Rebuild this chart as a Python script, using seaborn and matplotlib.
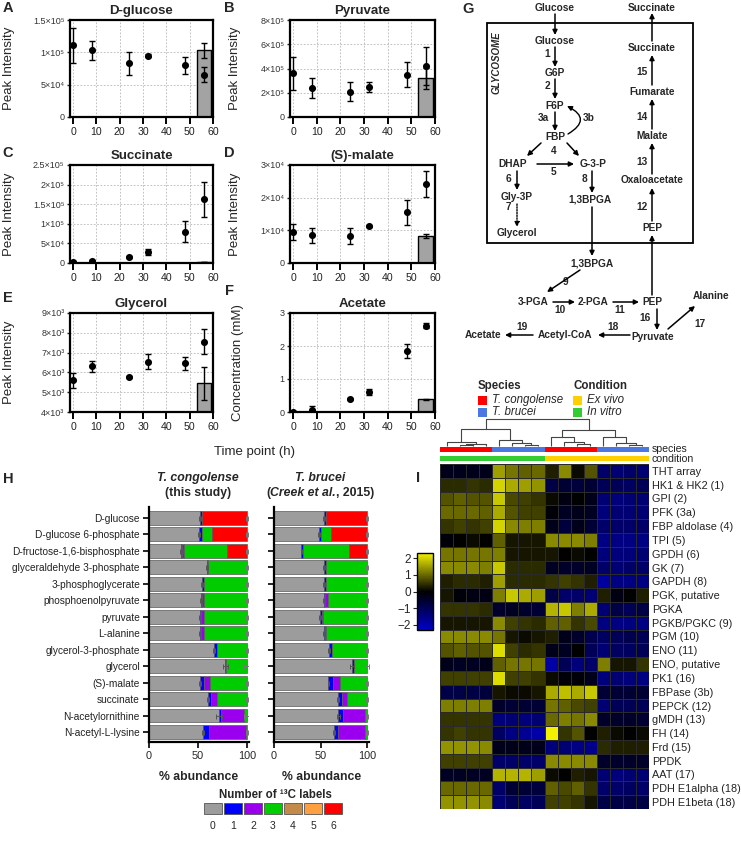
import numpy as np
import pandas as pd
import matplotlib
matplotlib.use("Agg")
import matplotlib.pyplot as plt
import seaborn as sns
from matplotlib.colors import LinearSegmentedColormap, ListedColormap
from matplotlib.patches import Rectangle

# ---------------- data: time courses (A-F) ----------------
time_h = [0, 8, 24, 32, 48, 56]
bar_t = 56

glucose_mean = [1.11e5, 1.03e5, 0.83e5, 0.95e5, 0.80e5, 0.655e5]
glucose_err = [0.27e5, 0.145e5, 0.175e5, 0.02e5, 0.13e5, 0.115e5]
glucose_bar, glucose_bar_err = 1.03e5, 0.11e5

pyruvate_mean = [3.6e5, 2.4e5, 2.1e5, 2.5e5, 3.5e5, 4.2e5]
pyruvate_err = [1.35e5, 0.85e5, 0.75e5, 0.4e5, 1.05e5, 1.55e5]
pyruvate_bar, pyruvate_bar_err = 3.2e5, 0.85e5

succinate_mean = [3e3, 6e3, 1.5e4, 2.8e4, 8.0e4, 1.62e5]
succinate_err = [1e3, 2e3, 2e3, 7e3, 2.6e4, 4.4e4]
succinate_bar, succinate_bar_err = 2e3, 0.5e3

malate_mean = [9.4e3, 8.5e3, 8.3e3, 1.13e4, 1.55e4, 2.43e4]
malate_err = [2.4e3, 2.3e3, 2.5e3, 0.4e3, 3.8e3, 4.0e3]
malate_bar, malate_bar_err = 8.3e3, 0.7e3

glycerol_mean = [5.6e3, 6.3e3, 5.78e3, 6.55e3, 6.45e3, 7.55e3]
glycerol_err = [0.38e3, 0.3e3, 0.05e3, 0.4e3, 0.34e3, 0.63e3]
glycerol_bar, glycerol_bar_err = 5.45e3, 0.82e3

acetate_mean = [0.0, 0.07, 0.38, 0.6, 1.85, 2.62]
acetate_err = [0.02, 0.12, 0.03, 0.09, 0.2, 0.08]
acetate_bar, acetate_bar_err = 0.38, 0.02

# ---------------- data: isotopologues (H) ----------------
metabolites = ["D-glucose", "D-glucose 6-phosphate", "D-fructose-1,6-bisphosphate",
               "glyceraldehyde 3-phosphate", "3-phosphoglycerate", "phosphoenolpyruvate",
               "pyruvate", "L-alanine", "glycerol-3-phosphate", "glycerol", "(S)-malate",
               "succinate", "N-acetylornithine", "N-acetyl-L-lysine"]
label_numbers = [0, 1, 2, 3, 4, 5, 6]
label_colors = ["#9c9c9c", "#0000ff", "#9a00ee", "#00cc00", "#c48a4a", "#ffa040", "#ff0000"]

tc_lab0 = [52, 51, 33, 59, 54, 53, 52, 52, 66, 78, 52, 60, 71, 55]
tc_lab1 = [2.5, 3, 0.5, 1, 2, 1, 1, 1, 3, 1, 4, 3.5, 2, 6]
tc_lab2 = [0, 0, 2.5, 0, 0, 2.5, 3, 3, 0, 0, 6, 5.5, 24, 38]
tc_lab3 = [0, 10, 44, 40, 44, 43.5, 44, 44, 31, 21, 38, 31, 3, 1]
tc_lab6 = [45.5, 36, 20, 0, 0, 0, 0, 0, 0, 0, 0, 0, 0, 0]
tc_err0 = [1, 1.5, 1.5, 1, 1, 1, 1, 1, 1, 2.5, 1, 1, 3, 1]
tc_err_end = [1, 1, 1, 1, 1, 1, 1, 1, 1, 3, 1, 1, 3, 1]

tb_lab0 = [53.5, 48.5, 29.5, 54, 54, 53.5, 49.5, 53.5, 59.5, 83.5, 58.5, 69, 69, 64.5]
tb_lab1 = [2, 2, 2, 2, 2, 1, 1.5, 1.5, 2.5, 2, 4.5, 4, 5, 4.5]
tb_lab2 = [0, 0, 0, 0, 0, 3, 2, 1, 0, 0, 8, 5, 24, 29]
tb_lab3 = [0, 10.5, 49.5, 44, 44, 42.5, 47, 44, 38, 14.5, 29, 22, 2, 2]
tb_lab6 = [44.5, 39, 19, 0, 0, 0, 0, 0, 0, 0, 0, 0, 0, 0]
tb_err0 = [1, 1, 1, 1, 1, 1, 1, 1, 1, 2, 1, 1, 1.5, 1]
tb_err_end = [1, 1, 1, 1, 1, 1, 1, 1, 1, 2, 1, 1, 1, 1]

# ---------------- data: heatmap (I) ----------------
genes = ["THT array", "HK1 & HK2 (1)", "GPI (2)", "PFK (3a)", "FBP aldolase (4)", "TPI (5)",
         "GPDH (6)", "GK (7)", "GAPDH (8)", "PGK, putative", "PGKA", "PGKB/PGKC (9)",
         "PGM (10)", "ENO (11)", "ENO, putative", "PK1 (16)", "FBPase (3b)", "PEPCK (12)",
         "gMDH (13)", "FH (14)", "Frd (15)", "PPDK", "AAT (17)", "PDH E1alpha (18)",
         "PDH E1beta (18)"]
heat_values = [
    [-0.3, -0.3, -0.3, -0.3, 1.5, 1.1, 0.9, 1.0, 0.3, 1.3, 0.1, 0.8, -1.2, -1.3, -1.2, -1.3],
    [0.4, 0.4, 0.5, 0.4, 2.0, 1.6, 1.5, 1.4, -0.8, -0.6, -0.7, -0.6, -1.0, -1.0, -1.1, -1.0],
    [0.8, 0.9, 0.8, 0.8, 1.9, 0.7, 0.6, 0.5, 0.1, -0.2, 0.0, -0.3, -1.3, -1.4, -1.3, -1.3],
    [1.0, 1.0, 1.0, 0.9, 1.6, 0.8, 0.6, 0.6, -0.1, -0.4, -0.3, -0.4, -1.4, -1.3, -1.3, -1.3],
    [0.5, 0.6, 0.5, 0.6, 2.0, 1.3, 1.2, 1.2, -0.3, -0.7, -0.3, -0.6, -1.2, -1.2, -1.2, -1.2],
    [-0.1, 0.0, 0.1, 0.0, 0.9, 0.2, 0.2, 0.2, 1.3, 1.3, 1.3, 1.2, -1.5, -1.5, -1.5, -1.5],
    [1.1, 1.1, 1.1, 1.1, 1.2, 0.2, 0.2, 0.2, 0.2, 0.0, 0.1, 0.0, -1.4, -1.4, -1.4, -1.3],
    [1.3, 1.3, 1.3, 1.2, 1.9, 0.4, 0.4, 0.4, -0.4, -0.5, -0.5, -0.4, -1.2, -1.3, -1.2, -1.2],
    [0.3, 0.4, 0.4, 0.3, 1.5, 0.4, 0.4, 0.4, 0.5, 0.6, 0.5, 0.3, -1.8, -1.5, -1.5, -1.5],
    [0.2, -0.1, -0.2, -0.2, 1.2, 1.9, 1.6, 1.5, -0.8, -1.2, -1.2, -1.3, 0.3, -0.2, 0.0, 0.3],
    [0.5, 0.5, 0.5, 0.4, -0.5, -0.4, -0.5, -0.6, 1.7, 1.9, 1.2, 1.6, -1.3, -0.8, -1.0, -0.8],
    [0.2, 0.2, 0.2, 0.2, 1.3, 0.6, 0.5, 0.4, 0.9, 0.9, 0.5, 0.7, -1.5, -1.5, -1.5, -1.5],
    [1.3, 1.3, 1.3, 1.3, 1.1, 0.2, 0.1, 0.2, 0.3, -0.3, -0.5, -0.9, -1.1, -1.0, -0.9, -1.0],
    [0.8, 0.9, 0.8, 0.8, 2.1, 0.6, 0.4, 0.5, -0.3, -0.4, 0.0, -1.0, -1.3, -1.1, -1.1, -1.0],
    [-0.3, -0.4, -0.4, -0.3, 0.9, 1.1, 1.1, 1.1, -1.9, -1.0, -1.4, -1.2, 1.2, 0.2, 0.2, 0.5],
    [0.6, 0.6, 0.6, 0.6, 2.1, 0.6, 0.6, 0.5, 0.1, -0.1, -0.1, -0.3, -1.4, -1.3, -1.4, -1.5],
    [-0.8, -0.8, -0.8, -0.7, 0.2, 0.1, 0.1, 0.2, 1.6, 1.8, 1.6, 1.9, -0.6, -0.6, -0.6, -0.6],
    [1.2, 1.2, 1.2, 1.2, -0.5, -0.6, -0.6, -0.6, 1.1, 0.9, 0.7, 0.6, -1.3, -1.0, -1.0, -1.0],
    [0.5, 0.5, 0.5, 0.5, -1.4, -1.3, -1.4, -1.3, 1.0, 1.2, 1.1, 1.3, -0.5, -0.5, -0.5, -0.6],
    [0.5, 0.6, 0.5, 0.5, -1.1, -1.5, -1.7, -1.9, 2.3, 0.5, 0.8, 0.0, 0.3, 0.1, 0.0, 0.1],
    [1.4, 1.4, 1.4, 1.3, -0.3, -0.3, -0.3, -0.3, -1.4, -1.3, -1.5, -1.6, 0.4, 0.3, 0.3, 0.3],
    [0.6, 0.6, 0.6, 0.6, -1.2, -1.2, -1.2, -1.2, 1.3, 1.3, 1.3, 1.3, -0.5, -0.5, -0.5, -0.5],
    [-0.4, -0.4, -0.4, -0.4, 1.7, 1.7, 1.7, 1.5, 0.1, 0.0, 0.3, 0.2, -1.3, -1.4, -1.3, -1.3],
    [1.0, 1.0, 1.0, 1.0, -1.2, -0.6, -0.6, -0.7, 0.9, 0.7, 0.9, 0.5, -1.2, -1.2, -1.1, -1.2],
    [1.4, 1.4, 1.4, 1.3, -1.3, -1.0, -1.1, -1.0, 0.6, 0.6, 0.5, 0.2, -0.8, -0.8, -0.8, -0.8],
]
sample_species = ["T. congolense"] * 4 + ["T. brucei"] * 4 + ["T. congolense"] * 4 + ["T. brucei"] * 4
sample_condition = ["In vitro"] * 8 + ["Ex vivo"] * 8
species_colors = {"T. congolense": "#ff0000", "T. brucei": "#4a77e0"}
condition_colors = {"Ex vivo": "#ffd000", "In vitro": "#33cc33"}
# column dendrogram merges: (child a, child b, height); ids >= 16 are earlier merges
dendro_merges = [
    [1, 2, 0.05], [16, 3, 0.09], [0, 17, 0.17],
    [6, 7, 0.05], [5, 19, 0.10], [4, 20, 0.23], [18, 21, 0.63],
    [10, 11, 0.08], [9, 23, 0.16], [8, 24, 0.33],
    [14, 15, 0.06], [13, 26, 0.12], [12, 27, 0.33], [25, 28, 0.60],
    [22, 29, 1.00],
]

# ---------------- style ----------------
sns.set_theme(style="ticks")
plt.rcParams["font.family"] = ["Liberation Sans", "DejaVu Sans"]
plt.rcParams["axes.unicode_minus"] = True

W, H = 741, 843
fig = plt.figure(figsize=(W / 100, H / 100), dpi=100)


def pax(x0, y0, x1, y1, **kw):
    return fig.add_axes([x0 / W, 1 - y1 / H, (x1 - x0) / W, (y1 - y0) / H], **kw)


def timecourse(box, title, mean, err, bval, berr, ylim, yticks, ylabels, ylabel, ylab_x):
    ax = pax(*box)
    ax.bar([bar_t], [bval], width=6, color="#a3a3a3", edgecolor="black", linewidth=1.0, zorder=2)
    ax.errorbar([bar_t], [bval], yerr=[berr], fmt="none", ecolor="black", elinewidth=1,
                capsize=2.5, capthick=1, zorder=3)
    ax.errorbar(time_h, mean, yerr=err, fmt="none", ecolor="black", elinewidth=1,
                capsize=2.5, capthick=1, zorder=4)
    sns.scatterplot(x=time_h, y=mean, ax=ax, color="black", s=26, linewidth=0, zorder=5, legend=False)
    ax.set_xlim(-1.3, 60)
    ax.set_ylim(*ylim)
    ax.set_xticks(range(0, 61, 10))
    ax.set_xticklabels([str(v) for v in range(0, 61, 10)], fontsize=7.6)
    ax.set_yticks(yticks)
    ax.set_yticklabels(ylabels, fontsize=6.5, color="#333333")
    ax.tick_params(axis="x", length=5, width=1.4, pad=2, colors="black", labelcolor="#222222")
    ax.tick_params(axis="y", length=2.5, width=1, pad=1.5)
    ax.grid(True, color="#b5b5b5", lw=0.6, ls=(0, (2, 2)))
    ax.set_axisbelow(True)
    for s in ax.spines.values():
        s.set_linewidth(1.6)
        s.set_color("black")
        s.set_visible(True)
    ax.set_title(title, fontweight="bold", fontsize=9.5, pad=4)
    ax.set_ylabel(ylabel, fontsize=9.5)
    ax.yaxis.set_label_coords(ylab_x, 0.5)
    return ax


timecourse((70, 20, 213, 117), "D-glucose", glucose_mean, glucose_err, glucose_bar, glucose_bar_err,
           (0, 1.5e5), [0, 5e4, 1e5, 1.5e5], ["0", "5×10⁴", "1×10⁵", "1.5×10⁵"], "Peak Intensity", -0.385)
timecourse((290, 20, 435, 117), "Pyruvate", pyruvate_mean, pyruvate_err, pyruvate_bar, pyruvate_bar_err,
           (0, 8e5), [0, 2e5, 4e5, 6e5, 8e5], ["0", "2×10⁵", "4×10⁵", "6×10⁵", "8×10⁵"], "Peak Intensity", -0.34)
timecourse((70, 165, 213, 263), "Succinate", succinate_mean, succinate_err, succinate_bar, succinate_bar_err,
           (0, 2.5e5), [0, 5e4, 1e5, 1.5e5, 2e5, 2.5e5],
           ["0", "5×10⁴", "1×10⁵", "1.5×10⁵", "2×10⁵", "2.5×10⁵"], "Peak Intensity", -0.385)
timecourse((290, 165, 435, 263), "(S)-malate", malate_mean, malate_err, malate_bar, malate_bar_err,
           (0, 3e4), [0, 1e4, 2e4, 3e4], ["0", "1×10⁴", "2×10⁴", "3×10⁴"], "Peak Intensity", -0.34)
timecourse((70, 313, 213, 412), "Glycerol", glycerol_mean, glycerol_err, glycerol_bar, glycerol_bar_err,
           (4e3, 9e3), [4e3, 5e3, 6e3, 7e3, 8e3, 9e3],
           ["4×10³", "5×10³", "6×10³", "7×10³", "8×10³", "9×10³"], "Peak Intensity", -0.385)
timecourse((290, 313, 435, 412), "Acetate", acetate_mean, acetate_err, acetate_bar, acetate_bar_err,
           (0, 3), [0, 1, 2, 3], ["0", "1", "2", "3"], "Concentration (mM)", -0.32)

# ---------------- panel H ----------------
def stacked(box, segments, err0, err_end, show_labels):
    ax = pax(*box)
    y = np.arange(len(metabolites))
    left = np.zeros(len(metabolites))
    for lab, vals in segments:
        vals = np.array(vals, dtype=float)
        m = vals > 0
        ax.barh(y[m], vals[m], left=left[m], height=0.85, color=label_colors[lab],
                edgecolor="#5a5a5a", linewidth=0.5, zorder=2)
        left += vals
    lab0 = np.array(segments[0][1], dtype=float)
    ax.errorbar(lab0, y, xerr=err0, fmt="none", ecolor="#555555", elinewidth=0.7,
                capsize=1.8, capthick=0.7, zorder=3)
    ax.errorbar(left, y, xerr=err_end, fmt="none", ecolor="#777777", elinewidth=0.7,
                capsize=1.8, capthick=0.7, zorder=3)
    ax.set_xlim(0, 102)
    ax.set_ylim(13.61, -0.67)
    ax.set_yticks(y)
    if show_labels:
        ax.set_yticklabels(metabolites, fontsize=7.3, color="#222222")
    else:
        ax.set_yticklabels([])
    ax.set_xticks([0, 50, 100])
    ax.set_xticklabels(["0", "50", "100"], fontsize=7.8)
    ax.tick_params(axis="both", length=4.5, width=1.4, pad=2)
    sns.despine(ax=ax)
    for s in ["left", "bottom"]:
        ax.spines[s].set_linewidth(1.6)
        ax.spines[s].set_color("black")
    ax.set_xlabel("% abundance", fontsize=8.8, fontweight="bold", labelpad=7)
    return ax


stacked((149, 507, 249, 742),
        [(0, tc_lab0), (1, tc_lab1), (2, tc_lab2), (3, tc_lab3), (6, tc_lab6)],
        tc_err0, tc_err_end, True)
stacked((274, 507, 369, 742),
        [(0, tb_lab0), (1, tb_lab1), (2, tb_lab2), (3, tb_lab3), (6, tb_lab6)],
        tb_err0, tb_err_end, False)

# ---------------- panel I ----------------
cmap = LinearSegmentedColormap.from_list("byel", ["#0000c8", "#000000", "#f2f200"])
hm_ax = pax(440, 464, 649, 809)
cb_ax = pax(417, 553, 433, 630)
df_hm = pd.DataFrame(heat_values, index=genes)
sns.heatmap(df_hm, ax=hm_ax, cmap=cmap, vmin=-2.3, vmax=2.3, cbar_ax=cb_ax,
            linewidths=0.4, linecolor="#2a2a2a", xticklabels=False, yticklabels=True)
hm_ax.yaxis.tick_right()
hm_ax.set_yticklabels(genes, rotation=0, fontsize=7.8, color="#222222")
hm_ax.tick_params(axis="y", length=0, pad=2)
hm_ax.set_ylabel("")
cbar = hm_ax.collections[0].colorbar
cbar.set_ticks([-2, -1, 0, 1, 2])
cbar.set_ticklabels(["−2", "−1", "0", "1", "2"])
cbar.outline.set_linewidth(1.0)
cbar.outline.set_edgecolor("black")
cb_ax.yaxis.set_ticks_position("left")
cb_ax.tick_params(axis="y", labelsize=8.5, length=3, width=0.8, pad=1.5)

sp_ax = pax(440, 447, 649, 452)
sp_order = list(species_colors.keys())
sns.heatmap([[sp_order.index(s) for s in sample_species]], ax=sp_ax,
            cmap=ListedColormap([species_colors[k] for k in sp_order]), vmin=-0.5, vmax=1.5,
            cbar=False, xticklabels=False, yticklabels=False)
cd_ax = pax(440, 456, 649, 461)
cd_order = list(condition_colors.keys())
sns.heatmap([[cd_order.index(c) for c in sample_condition]], ax=cd_ax,
            cmap=ListedColormap([condition_colors[k] for k in cd_order]), vmin=-0.5, vmax=1.5,
            cbar=False, xticklabels=False, yticklabels=False)

dd_ax = pax(440, 418, 649, 447)
pos = {i: i + 0.5 for i in range(16)}
hgt = {i: 0.0 for i in range(16)}
for k, (a, b, h) in enumerate(dendro_merges):
    xa, xb = pos[a], pos[b]
    dd_ax.plot([xa, xa, xb, xb], [hgt[a], h, h, hgt[b]], color="#444444", lw=0.8,
               solid_capstyle="butt")
    pos[16 + k] = (xa + xb) / 2
    hgt[16 + k] = h
dd_ax.set_xlim(0, 16)
dd_ax.set_ylim(-0.03, 1.03)
dd_ax.axis("off")

# ---------------- overlay: letters, labels, pathway, legends ----------------
ov = fig.add_axes([0, 0, 1, 1], zorder=10)
ov.set_xlim(0, W)
ov.set_ylim(H, 0)
ov.axis("off")
ov.patch.set_alpha(0)

for letter, x, y in [("A", 8, 8), ("B", 229, 8), ("C", 8, 153), ("D", 229, 153), ("E", 8, 298),
                     ("F", 229, 291), ("G", 468, 9), ("H", 8, 479), ("I", 418, 478)]:
    ov.text(x, y, letter, fontsize=10.5, fontweight="bold", ha="center", va="center")

ov.text(255, 452, "Time point (h)", fontsize=9.5, ha="center", va="center")

renderer = fig.canvas.get_renderer()


def rich(x, y, pieces, fs):
    ts = [ov.text(0, y, s, fontsize=fs, fontweight="bold", fontstyle=st, ha="left", va="center")
          for s, st in pieces]
    ws = [t.get_window_extent(renderer).width for t in ts]
    cur = x - sum(ws) / 2
    for t, w in zip(ts, ws):
        t.set_x(cur)
        cur += w


rich(198, 478, [("T. congolense", "italic")], 8.8)
rich(198, 493, [("(this study)", "normal")], 8.8)
rich(320, 478, [("T. brucei", "italic")], 8.8)
rich(320, 493, [("(", "normal"), ("Creek et al.", "italic"), (", 2015)", "normal")], 8.8)

# H legend
ov.text(275, 795, "Number of ¹³C labels", fontsize=8.3, fontweight="bold", ha="center", va="center")
for i, (n, c) in enumerate(zip(label_numbers, label_colors)):
    ov.add_patch(Rectangle((204 + 20 * i, 803), 18, 11, facecolor=c, edgecolor="#555555", lw=0.6))
    ov.text(213 + 20 * i, 826, str(n), fontsize=7.5, ha="center", va="center")

# I legend
ov.text(478, 386, "Species", fontsize=8.3, fontweight="bold", ha="left", va="center")
ov.text(573, 386, "Condition", fontsize=8.3, fontweight="bold", ha="left", va="center")
for (name, col), yy in zip(species_colors.items(), [400, 412]):
    ov.add_patch(Rectangle((478, yy - 4.5), 9, 9, facecolor=col, edgecolor="none"))
    ov.text(492, yy, name, fontsize=8.3, fontstyle="italic", ha="left", va="center")
for (name, col), yy in zip(condition_colors.items(), [400, 412]):
    ov.add_patch(Rectangle((573, yy - 4.5), 9, 9, facecolor=col, edgecolor="none"))
    ov.text(587, yy, name, fontsize=8.3, fontstyle="italic", ha="left", va="center")
ov.text(652, 449.5, "species", fontsize=7.6, ha="left", va="center", color="#222222")
ov.text(652, 458.5, "condition", fontsize=7.6, ha="left", va="center", color="#222222")

# G pathway
ov.add_patch(Rectangle((487, 23), 206, 220, facecolor="none", edgecolor="black", lw=1.3))
ov.text(497, 63, "GLYCOSOME", fontsize=7, fontweight="bold", fontstyle="italic",
        rotation=90, ha="center", va="center")
nodes = [("Glucose", 555, 8), ("Glucose", 555, 41), ("G6P", 555, 73), ("F6P", 555, 106),
         ("FBP", 555, 137), ("DHAP", 513, 164), ("G-3-P", 593, 164), ("Gly-3P", 517, 197),
         ("1,3BPGA", 590, 200), ("Glycerol", 517, 233), ("Succinate", 652, 8),
         ("Succinate", 652, 48), ("Fumarate", 652, 92), ("Malate", 652, 136),
         ("Oxaloacetate", 652, 180), ("PEP", 652, 228), ("1,3BPGA", 592, 263),
         ("3-PGA", 533, 302), ("2-PGA", 593, 302), ("PEP", 652, 302), ("Alanine", 711, 296),
         ("Pyruvate", 653, 337), ("Acetyl-CoA", 565, 335), ("Acetate", 483, 335)]
for name, x, y in nodes:
    ov.text(x, y, name, fontsize=7.3, fontweight="bold", ha="center", va="center")
steps = [("1", 547, 54), ("2", 547, 86), ("3a", 543, 118), ("3b", 589, 118), ("4", 554, 151),
         ("5", 554, 172), ("6", 509, 179), ("8", 584, 179), ("7", 508, 207), ("9", 565, 282),
         ("10", 560, 310), ("11", 620, 310), ("12", 642, 207), ("13", 642, 162),
         ("14", 642, 117), ("15", 642, 72), ("16", 645, 318), ("17", 700, 324),
         ("18", 613, 327), ("19", 522, 327)]
for s, x, y in steps:
    ov.text(x, y, s, fontsize=7.3, fontweight="bold", ha="center", va="center")

arrows = [(555, 14, 555, 35), (555, 47, 555, 67), (555, 79, 555, 99), (555, 112, 555, 131),
          (541, 143, 527, 156), (567, 143, 579, 156), (537, 164, 574, 164),
          (517, 171, 517, 190), (592, 171, 592, 193), (592, 207, 592, 256),
          (580, 270, 547, 292), (553, 302, 575, 302), (613, 302, 639, 302),
          (652, 295, 652, 235), (652, 221, 652, 188), (652, 174, 652, 143),
          (652, 129, 652, 99), (652, 85, 652, 55), (652, 41, 652, 13),
          (657, 309, 657, 330), (668, 329, 695, 306), (630, 335, 598, 335),
          (533, 335, 505, 335)]
for x0, y0, x1, y1 in arrows:
    ov.annotate("", xy=(x1, y1), xytext=(x0, y0),
                arrowprops=dict(arrowstyle="-|>", lw=1.1, color="black", mutation_scale=7,
                                shrinkA=0, shrinkB=0))
# 3b curved arrow FBP -> F6P
ov.annotate("", xy=(567, 106), xytext=(568, 134),
            arrowprops=dict(arrowstyle="-|>", lw=1.0, color="black", mutation_scale=7,
                            shrinkA=0, shrinkB=0, connectionstyle="arc3,rad=0.9"))
# 7 dotted arrow Gly-3P -> Glycerol
ov.annotate("", xy=(517, 227), xytext=(517, 204),
            arrowprops=dict(arrowstyle="-|>", lw=1.0, color="black", mutation_scale=7,
                            shrinkA=0, shrinkB=0, linestyle=(0, (1, 1))))

fig.savefig("out.png", dpi=100)
